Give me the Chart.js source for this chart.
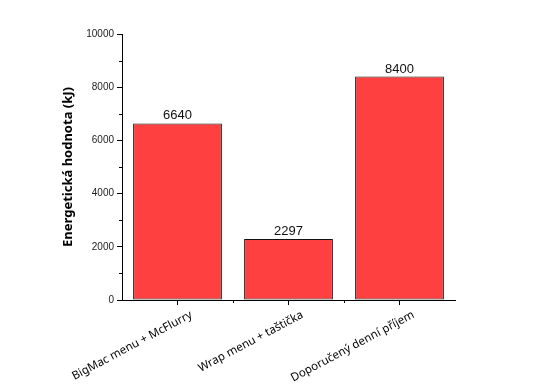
<!DOCTYPE html>
<html>
<head>
<meta charset="utf-8">
<script src="https://cdn.jsdelivr.net/npm/chart.js@4/dist/chart.umd.min.js"></script>
<style>
  html, body { margin: 0; padding: 0; background: #fff; }
  canvas { display: block; }
</style>
</head>
<body>
<canvas id="chart" width="559" height="392"></canvas>
<script>
const categories = ["BigMac menu + McFlurry", "Wrap menu + taštička", "Doporučený denní příjem"];
const energy = [6640, 2297, 8400];
const yTicks = [0, 2000, 4000, 6000, 8000, 10000];

// value labels above bars + minor ticks
const extras = {
  id: "extras",
  afterDatasetsDraw(chart) {
    const ctx = chart.ctx;
    const meta = chart.getDatasetMeta(0);
    ctx.save();
    ctx.fillStyle = "#111";
    ctx.font = "13px 'Liberation Sans', Arial, sans-serif";
    ctx.textAlign = "center";
    ctx.textBaseline = "bottom";
    meta.data.forEach((bar, i) => {
      ctx.fillText(String(energy[i]), bar.x, bar.y - 1);
    });

    const y = chart.scales.y;
    const x = chart.scales.x;
    ctx.strokeStyle = "#000";
    ctx.lineWidth = 1;
    ctx.beginPath();
    for (let v = 1000; v < 10000; v += 2000) {
      const py = Math.round(y.getPixelForValue(v)) + 0.5;
      ctx.moveTo(y.right, py);
      ctx.lineTo(y.right - 3, py);
    }
    for (let i = 0; i < categories.length - 1; i++) {
      const px = Math.round(x.getPixelForValue(i + 0.5)) + 0.5;
      ctx.moveTo(px, x.top);
      ctx.lineTo(px, x.top + 3);
    }
    ctx.stroke();
    ctx.restore();
  }
};

new Chart(document.getElementById("chart"), {
  type: "bar",
  data: {
    labels: categories,
    datasets: [{
      data: energy,
      backgroundColor: "#fe4040",
      borderColor: "#111",
      borderWidth: 1,
      borderSkipped: false,
      categoryPercentage: 1,
      barPercentage: 0.8
    }]
  },
  options: {
    responsive: false,
    animation: false,
    layout: { padding: { left: 56, top: 34, right: 104, bottom: 0 } },
    plugins: { legend: { display: false }, tooltip: { enabled: false } },
    scales: {
      x: {
        grid: { offset: false, drawOnChartArea: false, tickLength: 5, color: "#000" },
        border: { color: "#000" },
        ticks: {
          color: "#000",
          minRotation: 28,
          maxRotation: 28,
          padding: 3,
          labelOffset: 14,
          font: { family: "'Noto Sans', sans-serif", size: 11.5 }
        },
        afterFit(s) { s.height = 92; }
      },
      y: {
        min: 0,
        max: 10000,
        afterBuildTicks(s) { s.ticks = yTicks.map(v => ({ value: v })); },
        grid: { drawOnChartArea: false, tickLength: 5, color: "#000" },
        border: { color: "#000" },
        ticks: {
          color: "#222",
          padding: 3,
          callback: (v) => String(v),
          font: { family: "'Liberation Sans', Arial, sans-serif", size: 10 }
        },
        title: {
          display: true,
          text: "Energetická hodnota (kJ)",
          color: "#000",
          padding: { top: 4, bottom: 0 },
          font: { family: "'Noto Sans', sans-serif", size: 13, weight: "bold" }
        },
        afterFit(s) { s.width = 66; }
      }
    }
  },
  plugins: [extras]
});
</script>
</body>
</html>
